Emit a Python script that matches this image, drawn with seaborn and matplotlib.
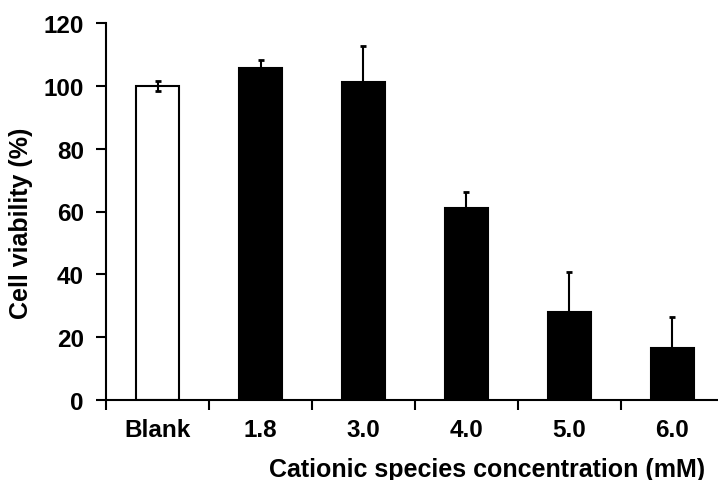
import matplotlib
matplotlib.use("Agg")
import matplotlib.pyplot as plt
import seaborn as sns
import numpy as np
import pandas as pd

categories = ["Blank", "1.8", "3.0", "4.0", "5.0", "6.0"]
viability = [100.0, 105.7, 101.3, 61.1, 28.1, 16.5]
err_upper = [1.5, 2.6, 11.4, 5.2, 12.8, 9.9]
err_lower = [1.5, 0.0, 0.0, 0.0, 0.0, 0.0]
bar_colors = ["white", "black", "black", "black", "black", "black"]
y_ticks = [0, 20, 40, 60, 80, 100, 120]

sns.set_theme(style="ticks")
plt.rcParams["font.family"] = ["Liberation Sans", "DejaVu Sans"]
plt.rcParams["font.weight"] = "bold"
plt.rcParams["text.color"] = "black"
plt.rcParams["axes.labelcolor"] = "black"
plt.rcParams["xtick.color"] = "black"
plt.rcParams["ytick.color"] = "black"

df = pd.DataFrame({"cat": categories, "val": viability})

fig = plt.figure(figsize=(7.18, 4.81), dpi=100)
ax = fig.add_axes([106 / 718, 80 / 481, (724 - 106) / 718, (401 - 24) / 481])

sns.barplot(data=df, x="cat", y="val", hue="cat", palette=bar_colors,
            legend=False, width=0.41, edgecolor="black", linewidth=1.5,
            ax=ax, errorbar=None, saturation=1)

xpos = np.arange(len(categories))
ax.errorbar(xpos, viability, yerr=[err_lower, err_upper], fmt="none",
            ecolor="black", elinewidth=1.5, capsize=2.5, capthick=2, zorder=5)

ax.set_ylim(0, 120)
ax.set_xlim(-0.5, len(categories) - 0.5)
ax.set_yticks(y_ticks)
ax.set_yticklabels([str(t) for t in y_ticks], fontsize=17.5, fontweight="bold", color="black")
ax.set_xticks(xpos)
ax.set_xticklabels(categories, fontsize=17.5, fontweight="bold", color="black")
ax.set_xticks(np.arange(-0.5, len(categories)), minor=True)
ax.tick_params(axis="x", which="major", length=0, pad=13)
ax.tick_params(axis="x", which="minor", length=7, width=1.5, direction="out", color="black")
ax.tick_params(axis="y", length=7, width=1.5, direction="out", color="black", pad=9)

ax.set_ylabel("Cell viability (%)", fontsize=18, fontweight="bold", color="black")
ax.yaxis.set_label_coords(-0.118, 0.472)
ax.set_xlabel("Cationic species concentration (mM)", fontsize=18, fontweight="bold", color="black")
ax.xaxis.set_label_coords((487 - 106) / (724 - 106), -0.15)

for s in ["top", "right"]:
    ax.spines[s].set_visible(False)
for s in ["left", "bottom"]:
    ax.spines[s].set_linewidth(1.5)
    ax.spines[s].set_color("black")

fig.savefig("out.png", dpi=100)
